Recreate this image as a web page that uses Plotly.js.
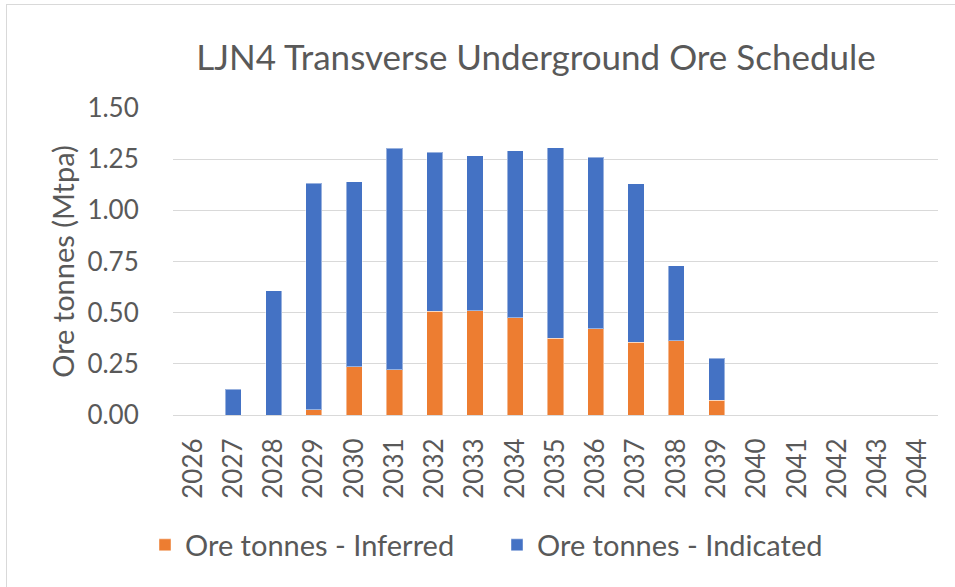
<!DOCTYPE html>
<html>
<head>
<meta charset="utf-8">
<script src="https://cdn.plot.ly/plotly-3.0.1.min.js"></script>
<style>
  html, body { margin: 0; padding: 0; background: #ffffff; }
  #wrap { position: relative; width: 955px; height: 587px; overflow: hidden; }
  #frame { position: absolute; left: 6px; top: 4px; width: 960px; height: 600px;
           border-top: 1px solid #d9d9d9; border-left: 1px solid #d9d9d9; pointer-events: none; }
  #chart { position: absolute; left: 0; top: 0; width: 955px; height: 587px; }
</style>
</head>
<body>
<div id="wrap">
  <div id="chart"></div>
  <div id="frame"></div>
</div>
<script>
const years = ['2026','2027','2028','2029','2030','2031','2032','2033','2034','2035',
               '2036','2037','2038','2039','2040','2041','2042','2043','2044'];
const inferred  = [0, 0, 0, 0.026, 0.236, 0.221, 0.508, 0.509, 0.475, 0.374,
                   0.421, 0.355, 0.363, 0.072, 0, 0, 0, 0, 0];
const indicated = [0, 0.125, 0.608, 1.106, 0.904, 1.082, 0.776, 0.757, 0.817, 0.931,
                   0.838, 0.774, 0.367, 0.205, 0, 0, 0, 0, 0];
const yTicks = [0, 0.25, 0.5, 0.75, 1.0, 1.25, 1.5];
const yTickText = ['0.00', '0.25', '0.50', '0.75', '1.00', '1.25', '1.50'];

const FONT = 'Lato, "Open Sans", sans-serif';
const GREY = '#595959';

const traces = [
  { type: 'bar', name: 'Ore tonnes - Inferred', x: years, y: inferred, legend: 'legend',
    marker: { color: '#ED7D31', line: { color: 'rgba(255,255,255,0.45)', width: 1 } } },
  { type: 'bar', name: 'Ore tonnes - Indicated', x: years, y: indicated, legend: 'legend2',
    marker: { color: '#4472C4', line: { color: 'rgba(255,255,255,0.45)', width: 1 } } }
];

const legendBase = {
  orientation: 'h', xref: 'container', yref: 'container',
  xanchor: 'left', y: 1 - 545 / 587, yanchor: 'middle',
  font: { family: FONT, size: 29, color: GREY }, bgcolor: 'rgba(0,0,0,0)', borderwidth: 0
};

const layout = {
  width: 955, height: 587,
  paper_bgcolor: '#ffffff', plot_bgcolor: '#ffffff',
  barmode: 'stack', bargap: 0.6,
  margin: { l: 173, r: 17, t: 108, b: 172, pad: 0 },
  font: { family: FONT, color: GREY, size: 26 },
  title: { text: 'LJN4 Transverse Underground Ore Schedule',
           font: { family: FONT, size: 35, color: GREY },
           x: 536 / 955, xref: 'container', xanchor: 'center',
           y: 1 - 58 / 587, yref: 'container', yanchor: 'middle' },
  xaxis: { type: 'category', tickangle: -90, showgrid: false,
           showline: true, linecolor: '#d9d9d9', linewidth: 1,
           ticks: 'outside', ticklen: 12, tickcolor: 'rgba(0,0,0,0)',
           tickfont: { family: FONT, size: 26, color: GREY }, fixedrange: true },
  yaxis: { range: [0, 1.5], tickvals: yTicks, ticktext: yTickText,
           showgrid: true, gridcolor: '#d9d9d9', gridwidth: 1,
           zeroline: false, showline: false,
           ticks: 'outside', ticklen: 28, tickcolor: 'rgba(0,0,0,0)',
           tickfont: { family: FONT, size: 26, color: GREY },
           title: { text: 'Ore tonnes (Mtpa)', font: { family: FONT, size: 29, color: GREY }, standoff: 4 },
           fixedrange: true },
  legend: Object.assign({}, legendBase, { x: 145 / 955 }),
  legend2: Object.assign({}, legendBase, { x: 497 / 955 }),
  showlegend: true
};

Plotly.newPlot('chart', traces, layout, { displayModeBar: false, staticPlot: true });
</script>
</body>
</html>
